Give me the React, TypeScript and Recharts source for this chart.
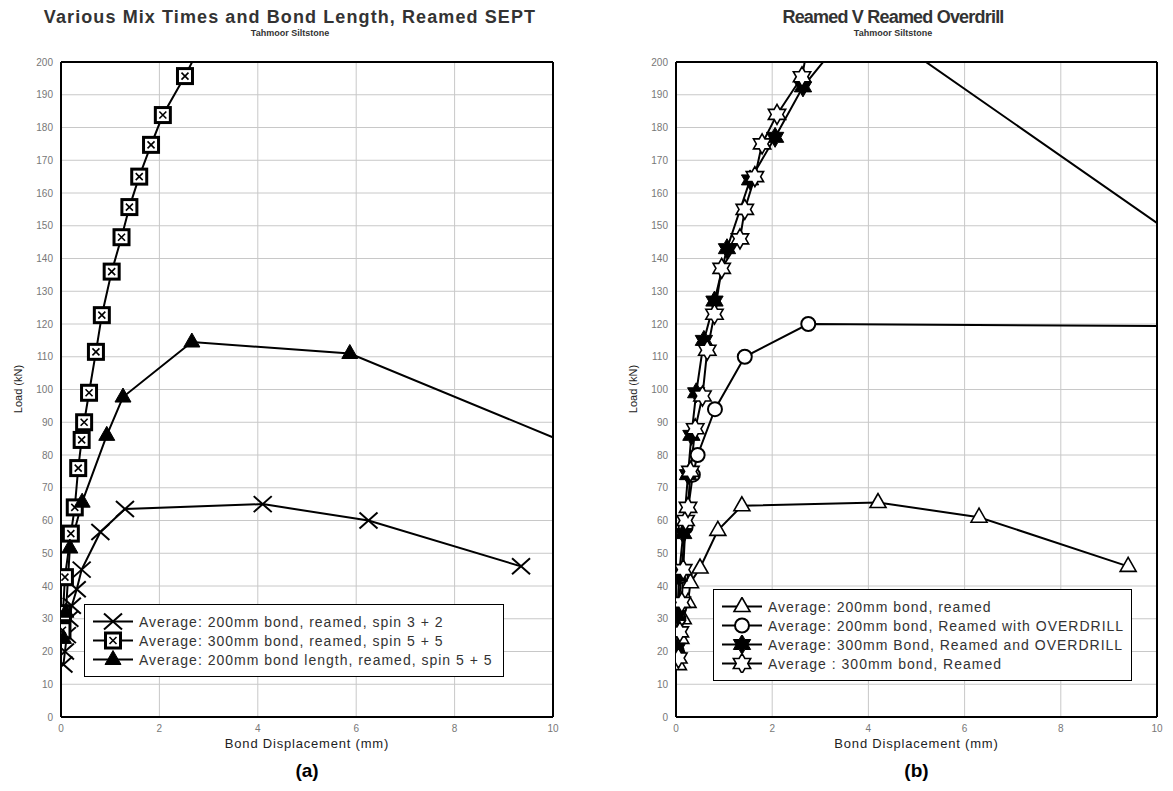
import { LineChart, Line, XAxis, YAxis, CartesianGrid, ReferenceLine } from "recharts"

const xTicks = [0, 2, 4, 6, 8, 10]
const yTicks = [0, 10, 20, 30, 40, 50, 60, 70, 80, 90, 100, 110, 120, 130, 140, 150, 160, 170, 180, 190, 200]

// (a) Various mix times and bond length
const spin32Disp = [0.05, 0.08, 0.12, 0.17, 0.22, 0.32, 0.42, 0.8, 1.3, 4.1, 6.25, 9.35]
const spin32Load = [16, 20, 25, 30, 34, 39, 45, 56.5, 63.5, 65, 60, 46]

const bond300Disp = [0.03, 0.04, 0.08, 0.2, 0.28, 0.35, 0.42, 0.47, 0.57, 0.71, 0.83, 1.03, 1.23, 1.39, 1.59, 1.83, 2.07, 2.52, 2.8]
const bond300Load = [26.5, 31.7, 42.7, 56, 64, 76, 84.6, 90, 99, 111.5, 122.7, 136, 146.5, 155.7, 165, 174.7, 183.8, 195.7, 204]

const spin55Disp = [0.05, 0.1, 0.18, 0.43, 0.93, 1.26, 2.66, 5.87, 12]
const spin55Load = [24, 32, 51.6, 65.6, 86, 97.7, 114.5, 111, 73]

// (b) Reamed v reamed overdrill
const reamed200Disp = [0.05, 0.1, 0.15, 0.25, 0.3, 0.5, 0.87, 1.37, 4.2, 6.3, 9.4]
const reamed200Load = [16, 24, 30, 35, 41, 45.5, 57, 64.5, 65.5, 61, 46]

const over200Disp = [0.02, 0.05, 0.1, 0.2, 0.35, 0.45, 0.81, 1.43, 2.75, 11]
const over200Load = [20, 30, 43, 58, 74, 80, 94, 110, 120, 119.3]

const over300Disp = [0.02, 0.03, 0.06, 0.15, 0.25, 0.32, 0.42, 0.58, 0.8, 1.06, 1.54, 2.06, 2.64, 3.83, 10.5]
const over300Load = [21, 31, 43, 56, 74, 86, 99, 115, 127, 143, 164, 177, 192.4, 214, 145.7]

const reamed300Disp = [0.05, 0.08, 0.12, 0.15, 0.2, 0.25, 0.3, 0.4, 0.55, 0.65, 0.8, 0.95, 1.33, 1.43, 1.64, 1.79, 2.1, 2.62, 2.8]
const reamed300Load = [18, 26, 35, 45, 60, 64, 75, 88, 98, 112, 123, 137, 146, 155, 165, 175, 184, 195.5, 210]

const zip = (xs: number[], ys: number[]) => xs.map((x, i) => ({ x, y: ys[i] }))

const FONT = "Arial, 'Liberation Sans', sans-serif"

function starPoints(cx: number, cy: number, R: number) {
  const r = R / Math.sqrt(3)
  const pts: string[] = []
  for (let k = 0; k < 12; k++) {
    const a = ((-90 + 30 * k) * Math.PI) / 180
    const rad = k % 2 === 0 ? R : r
    pts.push(`${cx + rad * Math.cos(a)},${cy + rad * Math.sin(a)}`)
  }
  return pts.join(" ")
}

function Marker({ kind, cx, cy }: { kind: string; cx: number; cy: number }) {
  switch (kind) {
    case "cross":
      return (
        <g stroke="#000" strokeWidth={2}>
          <line x1={cx - 9} y1={cy - 8} x2={cx + 9} y2={cy + 8} />
          <line x1={cx - 9} y1={cy + 8} x2={cx + 9} y2={cy - 8} />
        </g>
      )
    case "boxx":
      return (
        <g>
          <rect x={cx - 7.5} y={cy - 7.5} width={15} height={15} fill="#fff" stroke="#000" strokeWidth={3} />
          <path d={`M${cx - 3.5},${cy - 3.5} L${cx + 3.5},${cy + 3.5} M${cx - 3.5},${cy + 3.5} L${cx + 3.5},${cy - 3.5}`} stroke="#000" strokeWidth={1.6} />
        </g>
      )
    case "tri":
      return <polygon points={`${cx},${cy - 9} ${cx - 8},${cy + 5} ${cx + 8},${cy + 5}`} fill="#000" stroke="#000" strokeWidth={1} />
    case "otri":
      return <polygon points={`${cx},${cy - 9} ${cx - 8},${cy + 5} ${cx + 8},${cy + 5}`} fill="#fff" stroke="#000" strokeWidth={1.6} />
    case "circ":
      return <circle cx={cx} cy={cy} r={7} fill="#fff" stroke="#000" strokeWidth={2} />
    case "star":
      return <polygon points={starPoints(cx, cy, 10)} fill="#000" stroke="#000" strokeWidth={1} />
    case "ostar":
      return <polygon points={starPoints(cx, cy, 10)} fill="#fff" stroke="#000" strokeWidth={1.6} />
    default:
      return null
  }
}

type Series = { name: string; kind: string; data: { x: number; y: number }[] }

const seriesA: Series[] = [
  { name: "Average: 200mm bond, reamed, spin 3 + 2", kind: "cross", data: zip(spin32Disp, spin32Load) },
  { name: "Average: 300mm bond, reamed, spin 5 + 5", kind: "boxx", data: zip(bond300Disp, bond300Load) },
  { name: "Average: 200mm bond length, reamed, spin 5 + 5", kind: "tri", data: zip(spin55Disp, spin55Load) },
]

const seriesB: Series[] = [
  { name: "Average: 200mm bond, reamed", kind: "otri", data: zip(reamed200Disp, reamed200Load) },
  { name: "Average: 200mm bond, Reamed with OVERDRILL", kind: "circ", data: zip(over200Disp, over200Load) },
  { name: "Average: 300mm Bond, Reamed and OVERDRILL", kind: "star", data: zip(over300Disp, over300Load) },
  { name: "Average : 300mm bond, Reamed", kind: "ostar", data: zip(reamed300Disp, reamed300Load) },
]

function LegendBox({ items, left, top, width, rowH }: { items: Series[]; left: number; top: number; width: number; rowH: number }) {
  return (
    <div
      style={{
        position: "absolute",
        left,
        top,
        width,
        border: "1.5px solid #000",
        background: "#fff",
        padding: "7px 0 7px 8px",
        boxSizing: "border-box",
      }}
    >
      {items.map((s) => (
        <div key={s.name} style={{ display: "flex", alignItems: "center", height: rowH }}>
          <svg width={40} height={rowH} style={{ flex: "none" }}>
            <line x1={0} y1={rowH / 2} x2={40} y2={rowH / 2} stroke="#000" strokeWidth={2} />
            <Marker kind={s.kind} cx={20} cy={rowH / 2} />
          </svg>
          <span style={{ marginLeft: 6, fontFamily: FONT, fontSize: 14, letterSpacing: 1, color: "#333", whiteSpace: "nowrap" }}>{s.name}</span>
        </div>
      ))}
    </div>
  )
}

function Panel({
  left,
  series,
  title,
  titleSpacing,
  marginLeft,
  marginRight,
  titleX,
  legend,
}: {
  left: number
  series: Series[]
  title: string
  titleSpacing: number
  marginLeft: number
  marginRight: number
  titleX: number
  legend: { left: number; top: number; width: number; rowH: number }
}) {
  const plotLeft = marginLeft + 30
  const plotRight = 580 - marginRight
  const plotMid = (plotLeft + plotRight) / 2
  return (
    <div style={{ position: "absolute", left, top: 0, width: 580, height: 791 }}>
      <div
        style={{
          position: "absolute",
          left: titleX - 300,
          width: 600,
          top: 7,
          textAlign: "center",
          fontFamily: FONT,
          fontSize: 18,
          fontWeight: "bold",
          letterSpacing: titleSpacing,
          color: "#333",
        }}
      >
        {title}
      </div>
      <div style={{ position: "absolute", left: titleX - 300, width: 600, top: 28, textAlign: "center", fontFamily: FONT, fontSize: 9, fontWeight: "bold", color: "#333" }}>
        Tahmoor Siltstone
      </div>
      <LineChart width={580} height={791} margin={{ top: 62, right: marginRight, bottom: 44, left: marginLeft }}>
        <CartesianGrid stroke="#c8c8c8" strokeWidth={1} />
        <XAxis
          dataKey="x"
          type="number"
          domain={[0, 10]}
          ticks={xTicks}
          allowDataOverflow
          tickLine={false}
          axisLine={{ stroke: "#000", strokeWidth: 2 }}
          tick={{ fontSize: 10, fill: "#777", fontFamily: FONT }}
          height={30}
        />
        <YAxis
          dataKey="y"
          type="number"
          domain={[0, 200]}
          ticks={yTicks}
          interval={0}
          allowDataOverflow
          tickLine={false}
          axisLine={{ stroke: "#000", strokeWidth: 2 }}
          tick={{ fontSize: 10, fill: "#777", fontFamily: FONT }}
          width={30}
        />
        <ReferenceLine y={200} stroke="#000" strokeWidth={2} />
        <ReferenceLine x={10} stroke="#000" strokeWidth={2} />
        {series.map((s) => (
          <Line
            key={s.name}
            data={s.data}
            dataKey="y"
            type="linear"
            stroke="#000"
            strokeWidth={2}
            isAnimationActive={false}
            dot={(p: any) => (
              <g key={`${s.name}-${p.index}`}>
                {p.payload.x <= 10 && p.payload.y <= 200 ? <Marker kind={s.kind} cx={p.cx} cy={p.cy} /> : null}
              </g>
            )}
            activeDot={false}
          />
        ))}
      </LineChart>
      <div
        style={{
          position: "absolute",
          left: plotMid - 150,
          width: 300,
          top: 736,
          textAlign: "center",
          fontFamily: FONT,
          fontSize: 13,
          letterSpacing: 0.8,
          color: "#222",
        }}
      >
        Bond Displacement (mm)
      </div>
      <div
        style={{
          position: "absolute",
          left: plotLeft - 43 - 50,
          top: 383,
          width: 100,
          textAlign: "center",
          fontFamily: FONT,
          fontSize: 11,
          color: "#222",
          transform: "rotate(-90deg)",
        }}
      >
        Load (kN)
      </div>
      <div style={{ position: "absolute", left: plotMid - 50, width: 100, top: 760, textAlign: "center", fontFamily: FONT, fontSize: 19, fontWeight: "bold", color: "#000" }}>
        {left === 0 ? "(a)" : "(b)"}
      </div>
      <LegendBox items={series} {...legend} />
    </div>
  )
}

export default function App() {
  return (
    <div style={{ position: "absolute", left: 0, top: 0, width: 1173, height: 791, background: "#fff", overflow: "hidden" }}>
      <Panel
        left={0}
        series={seriesA}
        title="Various Mix Times and Bond Length, Reamed SEPT"
        titleSpacing={1.1}
        marginLeft={31}
        marginRight={27}
        titleX={290}
        legend={{ left: 84, top: 604, width: 420, rowH: 19 }}
      />
      <Panel
        left={593}
        series={seriesB}
        title="Reamed V Reamed Overdrill"
        titleSpacing={-0.8}
        marginLeft={53}
        marginRight={16}
        titleX={300}
        legend={{ left: 120, top: 589, width: 419, rowH: 19 }}
      />
    </div>
  )
}
